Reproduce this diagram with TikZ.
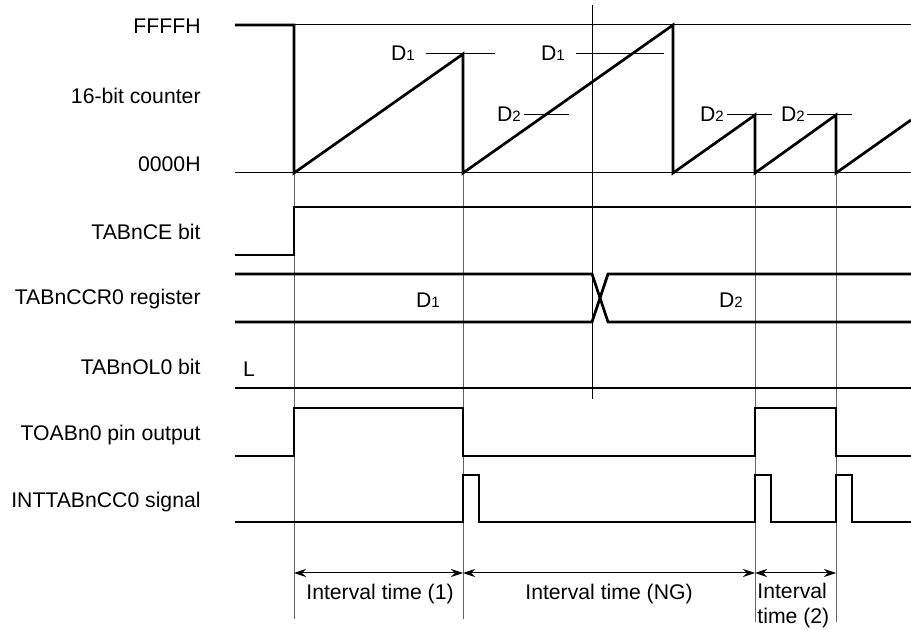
\documentclass[tikz,border=0pt]{standalone}
\usepackage{fontspec}
\setmainfont{Liberation Sans}
\usetikzlibrary{arrows.meta}
\newcommand{\sigfont}{\fontsize{10.6}{12.5}\selectfont}
\newcommand{\dval}[1]{D{\fontsize{7.5}{8}\selectfont #1}}

\begin{document}
\begin{tikzpicture}[
                x=0.5pt, y=-0.5pt,
                every node/.style={inner sep=1pt, font=\sigfont},
                wave/.style={line width=1.35pt},
                level/.style={line width=0.5pt},
                guide/.style={line width=0.5pt, black!60},
                dim/.style={line width=0.5pt, {Stealth[length=6pt,width=4pt]}-{Stealth[length=6pt,width=4pt]}}
            ]
            \useasboundingbox (0,0) rectangle (911,630);

            % signal names
            \node[anchor=east] (lffff) at (203, 26) {FFFFH};
            \node[anchor=east] (lcnt) at (203, 96) {16-bit counter};
            \node[anchor=east] (l0000) at (203, 164) {0000H};
            \node[anchor=east] (lce) at (203, 232) {TABnCE bit};
            \node[anchor=east] (lccr) at (203, 299) {TABnCCR0 register};
            \node[anchor=east] (lol) at (203, 367) {TABnOL0 bit};
            \node[anchor=east] (lto) at (203, 435) {TOABn0 pin output};
            \node[anchor=east] (lint) at (203, 502) {INTTABnCC0 signal};

            % guides
            \foreach \x/\y in {294/619, 463/619, 755/622, 836/622} {
                \draw[guide] (\x, 173) -- (\x, \y);
            }
            \draw[level] (592, 5) -- (592, 399);

            % 16-bit counter
            \draw[level] (294, 25) -- (911, 25);
            \draw[level] (235, 173) -- (911, 173);
            \draw[level] (426, 54) -- (495, 54);
            \draw[level] (576, 54) -- (664, 54);
            \foreach \x in {524, 727, 807} {
                \draw[level] (\x, 115) -- (\x+45, 115);
            }
            \node (d1a) at (403, 53) {\dval{1}};
            \node (d1b) at (553, 53) {\dval{1}};
            \node (d2a) at (509, 114) {\dval{2}};
            \node (d2b) at (712, 114) {\dval{2}};
            \node (d2c) at (793, 114) {\dval{2}};
            \draw[wave] (235, 25) -- (294, 25) -- (294, 173) -- (463, 54) -- (463, 173)
                -- (673, 25) -- (673, 173) -- (755, 115) -- (755, 173)
                -- (836, 115) -- (836, 173) -- (911, 120);

            % TABnCE bit
            \draw[wave] (235, 255) -- (294, 255) -- (294, 207) -- (911, 207);

            % TABnCCR0 register
            \draw[wave] (235, 274) -- (592, 274) -- (608, 322) -- (911, 322);
            \draw[wave] (235, 322) -- (592, 322) -- (608, 274) -- (911, 274);
            \node (rd1) at (428, 300) {\dval{1}};
            \node (rd2) at (731, 300) {\dval{2}};

            % TABnOL0 bit
            \draw[wave] (235, 388) -- (911, 388);
            \node (ol) at (249, 369) {L};

            % TOABn0 pin output
            \draw[wave] (235, 456) -| (294, 408) -| (463, 456) -| (755, 408) -| (836, 456) -- (911, 456);

            % INTTABnCC0 signal
            \draw[wave] (235, 522) -| (463, 475) -| (479, 522) -| (755, 475) -| (771, 522)
                -| (836, 475) -| (852, 522) -- (911, 522);

            % interval times
            \coordinate (t0) at (294, 573);
            \coordinate (t1) at (463, 573);
            \coordinate (t2) at (755, 573);
            \coordinate (t3) at (836, 573);
            \draw[dim] (t0) -- (t1);
            \draw[dim] (t1) -- (t2);
            \draw[dim] (t2) -- (t3);
            \node (iv1) at (380, 594) {Interval time (1)};
            \node (ivng) at (609, 594) {Interval time (NG)};
            \node[anchor=west, align=left] (iv2) at (755, 606) {Interval\\time (2)};
        \end{tikzpicture}
\end{document}
